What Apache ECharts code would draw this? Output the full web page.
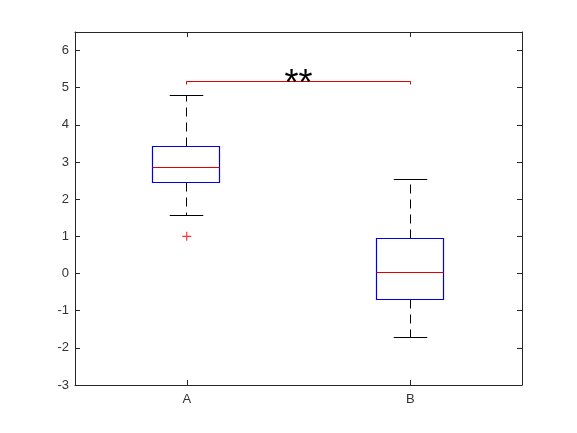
<!DOCTYPE html>
<html>
<head>
<meta charset="utf-8">
<script src="https://cdn.jsdelivr.net/npm/echarts@6/dist/echarts.min.js"></script>
<style>html,body{margin:0;padding:0;background:#fff}#c{width:577px;height:433px}</style>
</head>
<body>
<div id="c"></div>
<script>
// ---- data ----
var categories = ['A', 'B'];
var lowerWhisker = [1.56, -1.72];
var q1 = [2.45, -0.69];
var median = [2.86, 0.03];
var q3 = [3.43, 0.94];
var upperWhisker = [4.80, 2.53];
var outlierCategory = [0];
var outlierValue = [1.0];
var bracketFrom = 0, bracketTo = 1;
var bracketY = 5.17;
var bracketDrop = 0.08;
var sigText = '**';
var yMin = -3, yMax = 6.5, yStep = 1;

var boxData = categories.map(function (c, i) {
  return [i, lowerWhisker[i], q1[i], median[i], q3[i], upperWhisker[i]];
});
var outlierData = outlierCategory.map(function (c, i) { return [c, outlierValue[i]]; });

var axisColor = '#262626';
var labelColor = '#333333';
var chart = echarts.init(document.getElementById('c'), null, {renderer: 'canvas'});

function crisp(v) { return Math.round(v - 0.5) + 0.5; }

chart.setOption({
  animation: false,
  backgroundColor: '#fff',
  grid: {left: 75, right: 55, top: 32, bottom: 48, show: false},
  xAxis: [{
    type: 'category', data: categories, position: 'bottom',
    axisLine: {show: true, onZero: false, lineStyle: {color: axisColor, width: 1}},
    axisTick: {show: true, inside: true, alignWithLabel: true, length: 5, lineStyle: {color: axisColor}},
    axisLabel: {color: labelColor, fontFamily: 'Liberation Sans', fontSize: 13, margin: 8},
    splitLine: {show: false}
  }, {
    type: 'category', data: categories, position: 'top',
    axisLine: {show: true, onZero: false, lineStyle: {color: axisColor, width: 1}},
    axisTick: {show: true, inside: true, alignWithLabel: true, length: 5, lineStyle: {color: axisColor}},
    axisLabel: {show: false},
    splitLine: {show: false}
  }],
  yAxis: [{
    type: 'value', min: yMin, max: yMax, interval: yStep, position: 'left',
    axisLine: {show: true, onZero: false, lineStyle: {color: axisColor, width: 1}},
    axisTick: {show: true, inside: true, length: 5, lineStyle: {color: axisColor}},
    axisLabel: {color: labelColor, fontFamily: 'Liberation Sans', fontSize: 13, margin: 6, showMaxLabel: false,
      formatter: function (v) { return Number.isInteger(v) ? String(v) : ''; }},
    splitLine: {show: false}
  }, {
    type: 'value', min: yMin, max: yMax, interval: yStep, position: 'right',
    axisLine: {show: true, onZero: false, lineStyle: {color: axisColor, width: 1}},
    axisTick: {show: true, inside: true, length: 5, lineStyle: {color: axisColor}},
    axisLabel: {show: false},
    splitLine: {show: false}
  }],
  series: [{
    type: 'custom',
    xAxisIndex: 0, yAxisIndex: 0,
    data: boxData,
    encode: {x: 0, y: [1, 2, 3, 4, 5]},
    renderItem: function (params, api) {
      var idx = api.value(0);
      var band = api.size([1, 0])[0];
      var half = band * 0.15;
      var capHalf = band * 0.075;
      var pLow = api.coord([idx, api.value(1)]);
      var pQ1 = api.coord([idx, api.value(2)]);
      var pMed = api.coord([idx, api.value(3)]);
      var pQ3 = api.coord([idx, api.value(4)]);
      var pHigh = api.coord([idx, api.value(5)]);
      var cx = crisp(pLow[0]);
      var yLow = crisp(pLow[1]), yQ1 = crisp(pQ1[1]), yMed = crisp(pMed[1]), yQ3 = crisp(pQ3[1]), yHigh = crisp(pHigh[1]);
      var dash = {stroke: '#000', lineWidth: 1, lineDash: [9, 6]};
      var solid = {stroke: '#000', lineWidth: 1};
      return {
        type: 'group',
        children: [
          {type: 'line', shape: {x1: cx, y1: yQ3, x2: cx, y2: yHigh}, style: dash},
          {type: 'line', shape: {x1: cx, y1: yQ1, x2: cx, y2: yLow}, style: dash},
          {type: 'line', shape: {x1: cx - capHalf, y1: yHigh, x2: cx + capHalf, y2: yHigh}, style: solid},
          {type: 'line', shape: {x1: cx - capHalf, y1: yLow, x2: cx + capHalf, y2: yLow}, style: solid},
          {type: 'rect', shape: {x: crisp(cx - half), y: yQ3, width: Math.round(half * 2), height: yQ1 - yQ3},
            style: {stroke: '#0000e0', fill: 'none', lineWidth: 1.2}},
          {type: 'line', shape: {x1: crisp(cx - half), y1: yMed, x2: crisp(cx - half) + Math.round(half * 2), y2: yMed},
            style: {stroke: '#e00000', lineWidth: 1}}
        ]
      };
    }
  }, {
    type: 'scatter',
    xAxisIndex: 0, yAxisIndex: 0,
    data: outlierData,
    symbol: 'path://M5,0L5,10M0,5L10,5',
    symbolSize: 9,
    itemStyle: {color: 'none', borderColor: '#ff0000', borderWidth: 1.2}
  }, {
    type: 'custom',
    xAxisIndex: 0, yAxisIndex: 0,
    data: [[bracketFrom, bracketTo, bracketY, bracketDrop]],
    encode: {x: [0, 1], y: 2},
    renderItem: function (params, api) {
      var a = api.coord([api.value(0), api.value(2)]);
      var b = api.coord([api.value(1), api.value(2)]);
      var d = api.coord([api.value(0), api.value(2) - api.value(3)]);
      var y = crisp(a[1]), yd = crisp(d[1]);
      var x1 = crisp(a[0]), x2 = crisp(b[0]);
      return {
        type: 'group',
        children: [
          {type: 'polyline', shape: {points: [[x1, yd], [x1, y], [x2, y], [x2, yd]]},
            style: {stroke: '#e00000', fill: 'none', lineWidth: 1}},
          {type: 'text', x: (x1 + x2) / 2, y: y + 4,
            style: {text: sigText, fill: '#000', font: '36px "Liberation Sans"', align: 'center', verticalAlign: 'middle'}}
        ]
      };
    }
  }]
});
</script>
</body>
</html>
